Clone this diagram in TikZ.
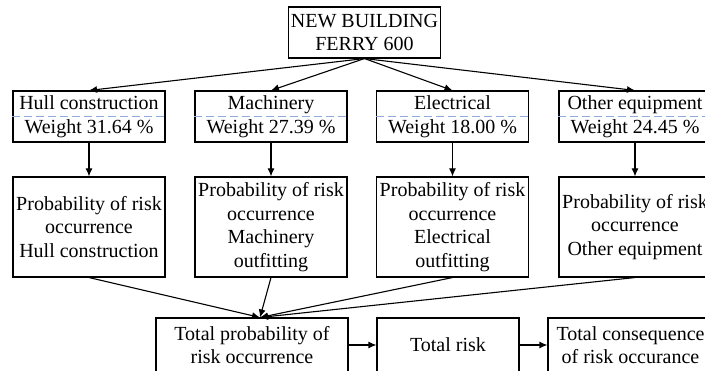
\documentclass[tikz,border=0pt]{standalone}
\usepackage{fontspec}
\setmainfont{Liberation Serif}
\usetikzlibrary{arrows.meta}
\definecolor{dashblue}{HTML}{8FAADC}

\begin{document}
\begin{tikzpicture}[x=1pt,y=-1pt,line width=1.1pt,>={Latex[length=8pt,width=7pt]},
  every node/.style={draw,align=center,inner sep=1pt,font=\fontsize{20}{23.5}\selectfont},
  wbox/.style={minimum width=152,minimum height=51},
  pbox/.style={minimum width=152,minimum height=100}]
  \useasboundingbox (0,0) rectangle (705,371);
  \node[wbox] (0) at (364.5,32.5) {NEW BUILDING\\FERRY 600};
  \node[wbox] (1) at (89,116.5) {Hull construction\\Weight 31.64 \%};
  \node[wbox] (2) at (271,116.5) {Machinery\\Weight 27.39 \%};
  \node[wbox] (3) at (452.5,116.5) {Electrical\\Weight 18.00 \%};
  \node[wbox] (4) at (635,116.5) {Other equipment\\Weight 24.45 \%};
  \node[pbox] (5) at (89,227) {Probability of risk\\occurrence\\Hull construction};
  \node[pbox] (6) at (271,227) {Probability of risk\\occurrence\\Machinery\\outfitting};
  \node[pbox] (7) at (452.5,227) {Probability of risk\\occurrence\\Electrical\\outfitting};
  \node[pbox] (8) at (635,227) {Probability of risk\\occurrence\\Other equipment};
  \node[minimum width=192,minimum height=54] (9) at (252,345) {Total probability of\\risk occurrence};
  \node[minimum width=142,minimum height=54] (10) at (448,345) {Total risk};
  \node[minimum width=165,minimum height=54] (11) at (630.5,345) {Total consequence\\of risk occurance};
  \coordinate (j) at ([xshift=8]9.north);
  \draw[dashblue,line width=1.5pt,dash pattern=on 8pt off 4pt]
    (1.west) -- (1.east) (2.west) -- (2.east) (3.west) -- (3.east) (4.west) -- (4.east);
  \draw[->] (0.south) -- (1.north);
  \draw[->] (0.south) -- (2.north);
  \draw[->] (0.south) -- (3.north);
  \draw[->] (0.south) -- (4.north);
  \draw[->] (1) -- (5);
  \draw[->] (2) -- (6);
  \draw[->] (3) -- (7);
  \draw[->] (4) -- (8);
  \draw[->] (5.south) -- (j);
  \draw[->] (6.south) -- (j);
  \draw[->] (7.south) -- (j);
  \draw[->] (8.south) -- (j);
  \draw[->] (9) -- (10);
  \draw[->] (10) -- (11);
\end{tikzpicture}
\end{document}
